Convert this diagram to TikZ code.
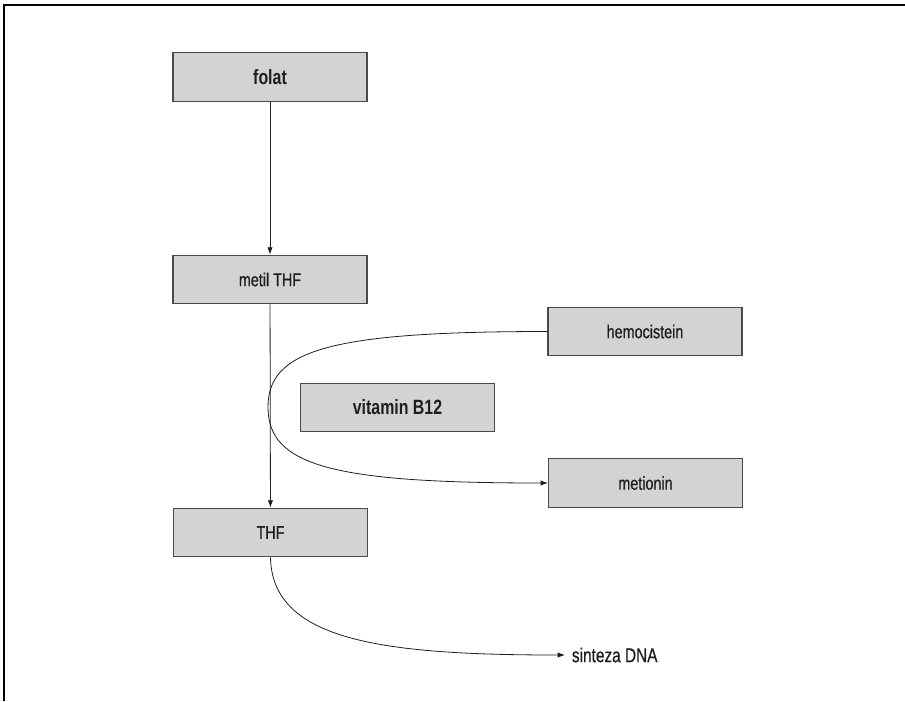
\documentclass[tikz,border=0pt]{standalone}
\usepackage{fontspec}
\setmainfont{Liberation Sans}[FakeStretch=0.77, UprightFeatures={FakeBold=0.6}]
\usetikzlibrary{arrows.meta}
\definecolor{boxgray}{HTML}{D3D3D5}
\definecolor{edgegray}{HTML}{4A4A4A}
\definecolor{inkblack}{HTML}{1E1E1E}

\tikzset{
  stepbox/.style={draw=edgegray, fill=boxgray, line width=0.8pt,
    minimum width=145.5pt, minimum height=36.5pt, inner sep=0pt,
    text=inkblack, font=\fontsize{14}{16}\selectfont},
  keybox/.style={stepbox, font=\fontsize{15.5}{17}\selectfont\bfseries},
  link/.style={inkblack, line width=0.6pt},
}

\begin{document}
\begin{tikzpicture}[x=0.75pt, y=-0.75pt, >={Latex[length=5.5pt, width=4pt]}]

% Canvas (pixel grid, y runs downwards)
\useasboundingbox (0,0) rectangle (905,701);
\draw[black, line width=1.6pt] (4,701) -- (4,5) -- (905,5);

% Main chain
\node[keybox] (folat) at (270,77) {folat};
\node[stepbox] (metil) at (270,279.5) {metil THF};
\node[stepbox] (thf) at (270.5,532.5) {THF};

% Side cycle
\node[stepbox] (hemo) at (645,331.5) {hemocistein};
\node[keybox] (vitb) at (397.5,407.5) {vitamin B12};
\node[stepbox] (meti) at (645.5,483) {metionin};

% Output
\node[text=inkblack, font=\fontsize{15}{17}\selectfont, anchor=west,
  inner sep=0pt, inner xsep=5pt] (dna) at (565,655) {sinteza DNA};

% Arrows
\draw[link, ->] (folat) -- (metil);
\draw[link, ->] (metil) -- (thf);

% hemocistein -> metionin, turning round past the THF line
\coordinate (turn) at (268,407);
\draw[link, ->] (hemo.west) .. controls (330,331.5) and (268,350) .. (turn)
  .. controls (268,465) and (330,483) .. (meti.west);

% THF -> sinteza DNA
\draw[link, ->] (thf.south) .. controls (272,640) and (380,655) .. (dna.west);

\end{tikzpicture}
\end{document}
